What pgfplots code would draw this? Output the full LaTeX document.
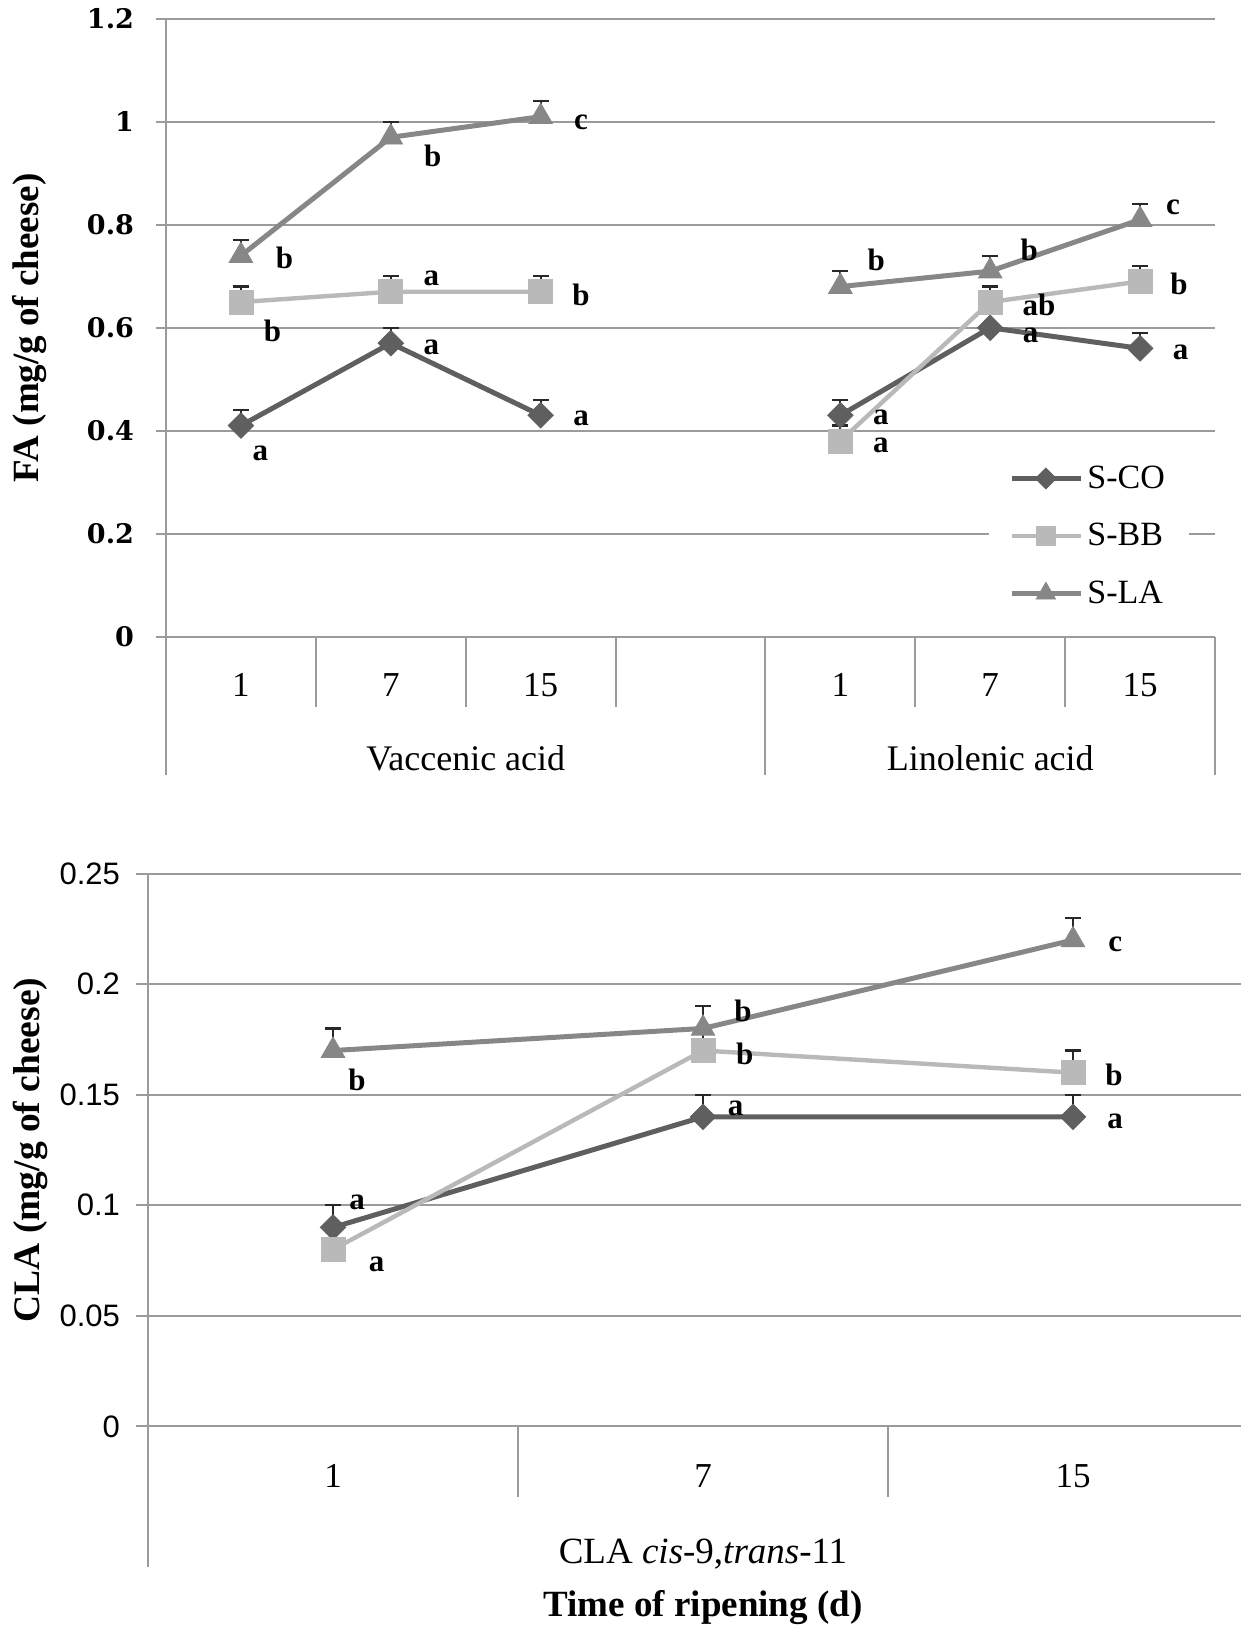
\documentclass[border=0pt]{standalone}
\usepackage{fontspec}
\setmainfont{Liberation Serif}
\setsansfont{Liberation Sans}
\newfontfamily\tickserif{DejaVu Serif Bold}
\usepackage{pgfplots}
\usepackage{pgfplotstable}
\pgfplotsset{compat=1.18}

\definecolor{gridc}{RGB}{155,155,155}
\definecolor{cco}{RGB}{95,95,95}
\definecolor{cbb}{RGB}{185,185,185}
\definecolor{cla}{RGB}{135,135,135}
\definecolor{errc}{RGB}{40,40,40}
\newcommand{\fs}[1]{\fontsize{#1}{#1}\selectfont}

\pgfplotstableread{
x y e
0 0.41 0.03
1 0.57 0.03
2 0.43 0.03
3 nan 0
4 0.43 0.03
5 0.60 0.03
6 0.56 0.03
}\topco
\pgfplotstableread{
x y e
0 0.65 0.03
1 0.67 0.03
2 0.67 0.03
3 nan 0
4 0.38 0.03
5 0.65 0.03
6 0.69 0.03
}\topbb
\pgfplotstableread{
x y e
0 0.74 0.03
1 0.97 0.03
2 1.01 0.03
3 nan 0
4 0.68 0.03
5 0.71 0.03
6 0.81 0.03
}\topla
\pgfplotstableread{
x y e
0 0.09 0.01
1 0.14 0.01
2 0.14 0.01
}\botco
\pgfplotstableread{
x y e
0 0.08 0.01
1 0.17 0.01
2 0.16 0.01
}\botbb
\pgfplotstableread{
x y e
0 0.17 0.01
1 0.18 0.01
2 0.22 0.01
}\botla

\tikzset{lab/.style={font=\fs{15.5}\bfseries, inner sep=0pt, anchor=center}}

\pgfplotsset{
  base/.style={
    scale only axis, clip=false,
    axis x line*=bottom, axis y line*=left,
    axis line style={gridc, line width=1pt},
    ymajorgrids, grid style={gridc, line width=1pt},
    tick align=outside,
    ytick style={gridc, line width=1pt},
    xtick style={draw=none},
    /pgf/number format/assume math mode=true,
    /pgf/number format/fixed,
    /pgf/number format/precision=2,
    unbounded coords=jump,
    legend image code/.code={\draw[mark repeat=2,mark phase=2,every mark/.append style={scale=0.82},##1] plot coordinates {(0pt,0pt) (17pt,0pt) (34.5pt,0pt)};},
  },
  sco/.style={cco, line width=2.5pt, mark=square*, mark size=4.5pt, mark options={solid, fill=cco, draw=cco, line width=0.4pt, rotate=45}},
  sbb/.style={cbb, line width=2.2pt, mark=square*, mark size=6pt, mark options={solid, fill=cbb, draw=cbb, line width=0.4pt}},
  sla/.style={cla, line width=2.5pt, mark=triangle*, mark size=6.8pt, mark options={solid, fill=cla, draw=cla, line width=0.4pt}},
  eb/.style={error bars/y dir=plus, error bars/y explicit,
    error bars/error bar style={errc, line width=1.1pt, solid},
    error bars/error mark options={rotate=90, errc, mark size=4pt, line width=1.1pt, solid}},
}

\begin{document}
\begin{tikzpicture}

% ---------------- top panel ----------------
\begin{axis}[base, at={(83pt,494.15pt)}, anchor=south west,
  width=524.5pt, height=308.9pt,
  xmin=-0.5, xmax=6.5, ymin=0, ymax=1.2,
  ytick={0,0.2,0.4,0.6,0.8,1,1.2},
  major tick length=5pt,
  xtick={0,1,2,4,5,6}, xticklabels={1,7,15,1,7,15},
  xticklabel style={font=\fs{17.5}, anchor=base, yshift=-24.85pt},
  yticklabel style={font=\fs{13.5}\tickserif, xshift=-7.5pt},
  ylabel={FA (mg/g of cheese)},
  ylabel style={font=\fs{18.5}\bfseries, at={(axis description cs:-0.1296,0.5)}, anchor=center},
  legend style={at={(0.88,0.163)}, anchor=center, draw=none, fill=white,
    font=\fs{17}, row sep=12pt, inner xsep=10pt, inner ysep=3pt},
  legend cell align=left,
]
\addplot[sco, eb] table[x=x, y=y, y error=e] {\topco};
\addplot[sbb, eb] table[x=x, y=y, y error=e] {\topbb};
\addplot[sla, eb] table[x=x, y=y, y error=e] {\topla};
\legend{S-CO,S-BB,S-LA}

\draw[gridc, line width=1pt] (axis cs:-0.5,0) -- ++(0pt,-69.15pt);
\draw[gridc, line width=1pt] (axis cs:3.5,0) -- ++(0pt,-69.15pt);
\draw[gridc, line width=1pt] (axis cs:6.5,0) -- ++(0pt,-69.15pt);
\draw[gridc, line width=1pt] (axis cs:0.5,0) -- ++(0pt,-35.15pt);
\draw[gridc, line width=1pt] (axis cs:1.5,0) -- ++(0pt,-35.15pt);
\draw[gridc, line width=1pt] (axis cs:2.5,0) -- ++(0pt,-35.15pt);
\draw[gridc, line width=1pt] (axis cs:4.5,0) -- ++(0pt,-35.15pt);
\draw[gridc, line width=1pt] (axis cs:5.5,0) -- ++(0pt,-35.15pt);
\node[font=\fs{18}, anchor=base] at (axis cs:1.5,0) [yshift=-66.85pt] {Vaccenic acid};
\node[font=\fs{18}, anchor=base] at (axis cs:5,0) [yshift=-66.85pt] {Linolenic acid};

% letters
\node[lab] at (axis cs:0.29,0.736) {b};
\node[lab] at (axis cs:1.28,0.934) {b};
\node[lab] at (axis cs:2.27,1.0) {c};
\node[lab] at (axis cs:0.21,0.594) {b};
\node[lab] at (axis cs:1.27,0.696) {a};
\node[lab] at (axis cs:2.27,0.664) {b};
\node[lab] at (axis cs:0.13,0.357) {a};
\node[lab] at (axis cs:1.27,0.5625) {a};
\node[lab] at (axis cs:2.27,0.424) {a};
\node[lab] at (axis cs:4.24,0.731) {b};
\node[lab] at (axis cs:5.26,0.751) {b};
\node[lab] at (axis cs:6.22,0.833) {c};
\node[lab] at (axis cs:4.27,0.371) {a};
\node[lab] at (axis cs:5.325,0.644) {ab};
\node[lab] at (axis cs:6.26,0.685) {b};
\node[lab] at (axis cs:4.27,0.426) {a};
\node[lab] at (axis cs:5.27,0.585) {a};
\node[lab] at (axis cs:6.27,0.553) {a};
\end{axis}

% ---------------- bottom panel ----------------
\begin{axis}[base, at={(74pt,99.3pt)}, anchor=south west,
  width=546.5pt, height=276.35pt,
  xmin=-0.5, xmax=2.454, ymin=0, ymax=0.25,
  ytick={0,0.05,0.1,0.15,0.2,0.25},
  major tick length=6pt,
  xtick={0,1,2}, xticklabels={1,7,15},
  xticklabel style={font=\fs{17.5}, anchor=base, yshift=-24.65pt},
  yticklabel style={font=\fs{15.5}\sffamily, xshift=-4.5pt},
  ylabel={CLA (mg/g of cheese)},
  ylabel style={font=\fs{18.75}\bfseries, at={(axis description cs:-0.1075,0.5)}, anchor=center},
]
\addplot[sco, eb] table[x=x, y=y, y error=e] {\botco};
\addplot[sbb, eb] table[x=x, y=y, y error=e] {\botbb};
\addplot[sla, eb] table[x=x, y=y, y error=e] {\botla};

\draw[gridc, line width=1pt] (axis cs:-0.5,0) -- ++(0pt,-70.3pt);
\draw[gridc, line width=1pt] (axis cs:0.5,0) -- ++(0pt,-35.55pt);
\draw[gridc, line width=1pt] (axis cs:1.5,0) -- ++(0pt,-35.55pt);
\node[font=\fs{18.5}, anchor=base] at (axis cs:1,0) [yshift=-68.8pt] {CLA \textit{cis}-9,\textit{trans}-11};
\node[font=\fs{18.5}\bfseries, anchor=base] at (axis cs:1,0) [yshift=-94.8pt] {Time of ripening (d)};

\node[lab] at (axis cs:0.065,0.1567) {b};
\node[lab] at (axis cs:0.065,0.1015) {a};
\node[lab] at (axis cs:0.118,0.0734) {a};
\node[lab] at (axis cs:1.108,0.188) {b};
\node[lab] at (axis cs:1.113,0.1686) {b};
\node[lab] at (axis cs:1.088,0.144) {a};
\node[lab] at (axis cs:2.114,0.218) {c};
\node[lab] at (axis cs:2.111,0.159) {b};
\node[lab] at (axis cs:2.114,0.138) {a};
\end{axis}

\pgfresetboundingbox
\path[use as bounding box] (0,0) rectangle (620.5pt,812.5pt);
\end{tikzpicture}
\end{document}
